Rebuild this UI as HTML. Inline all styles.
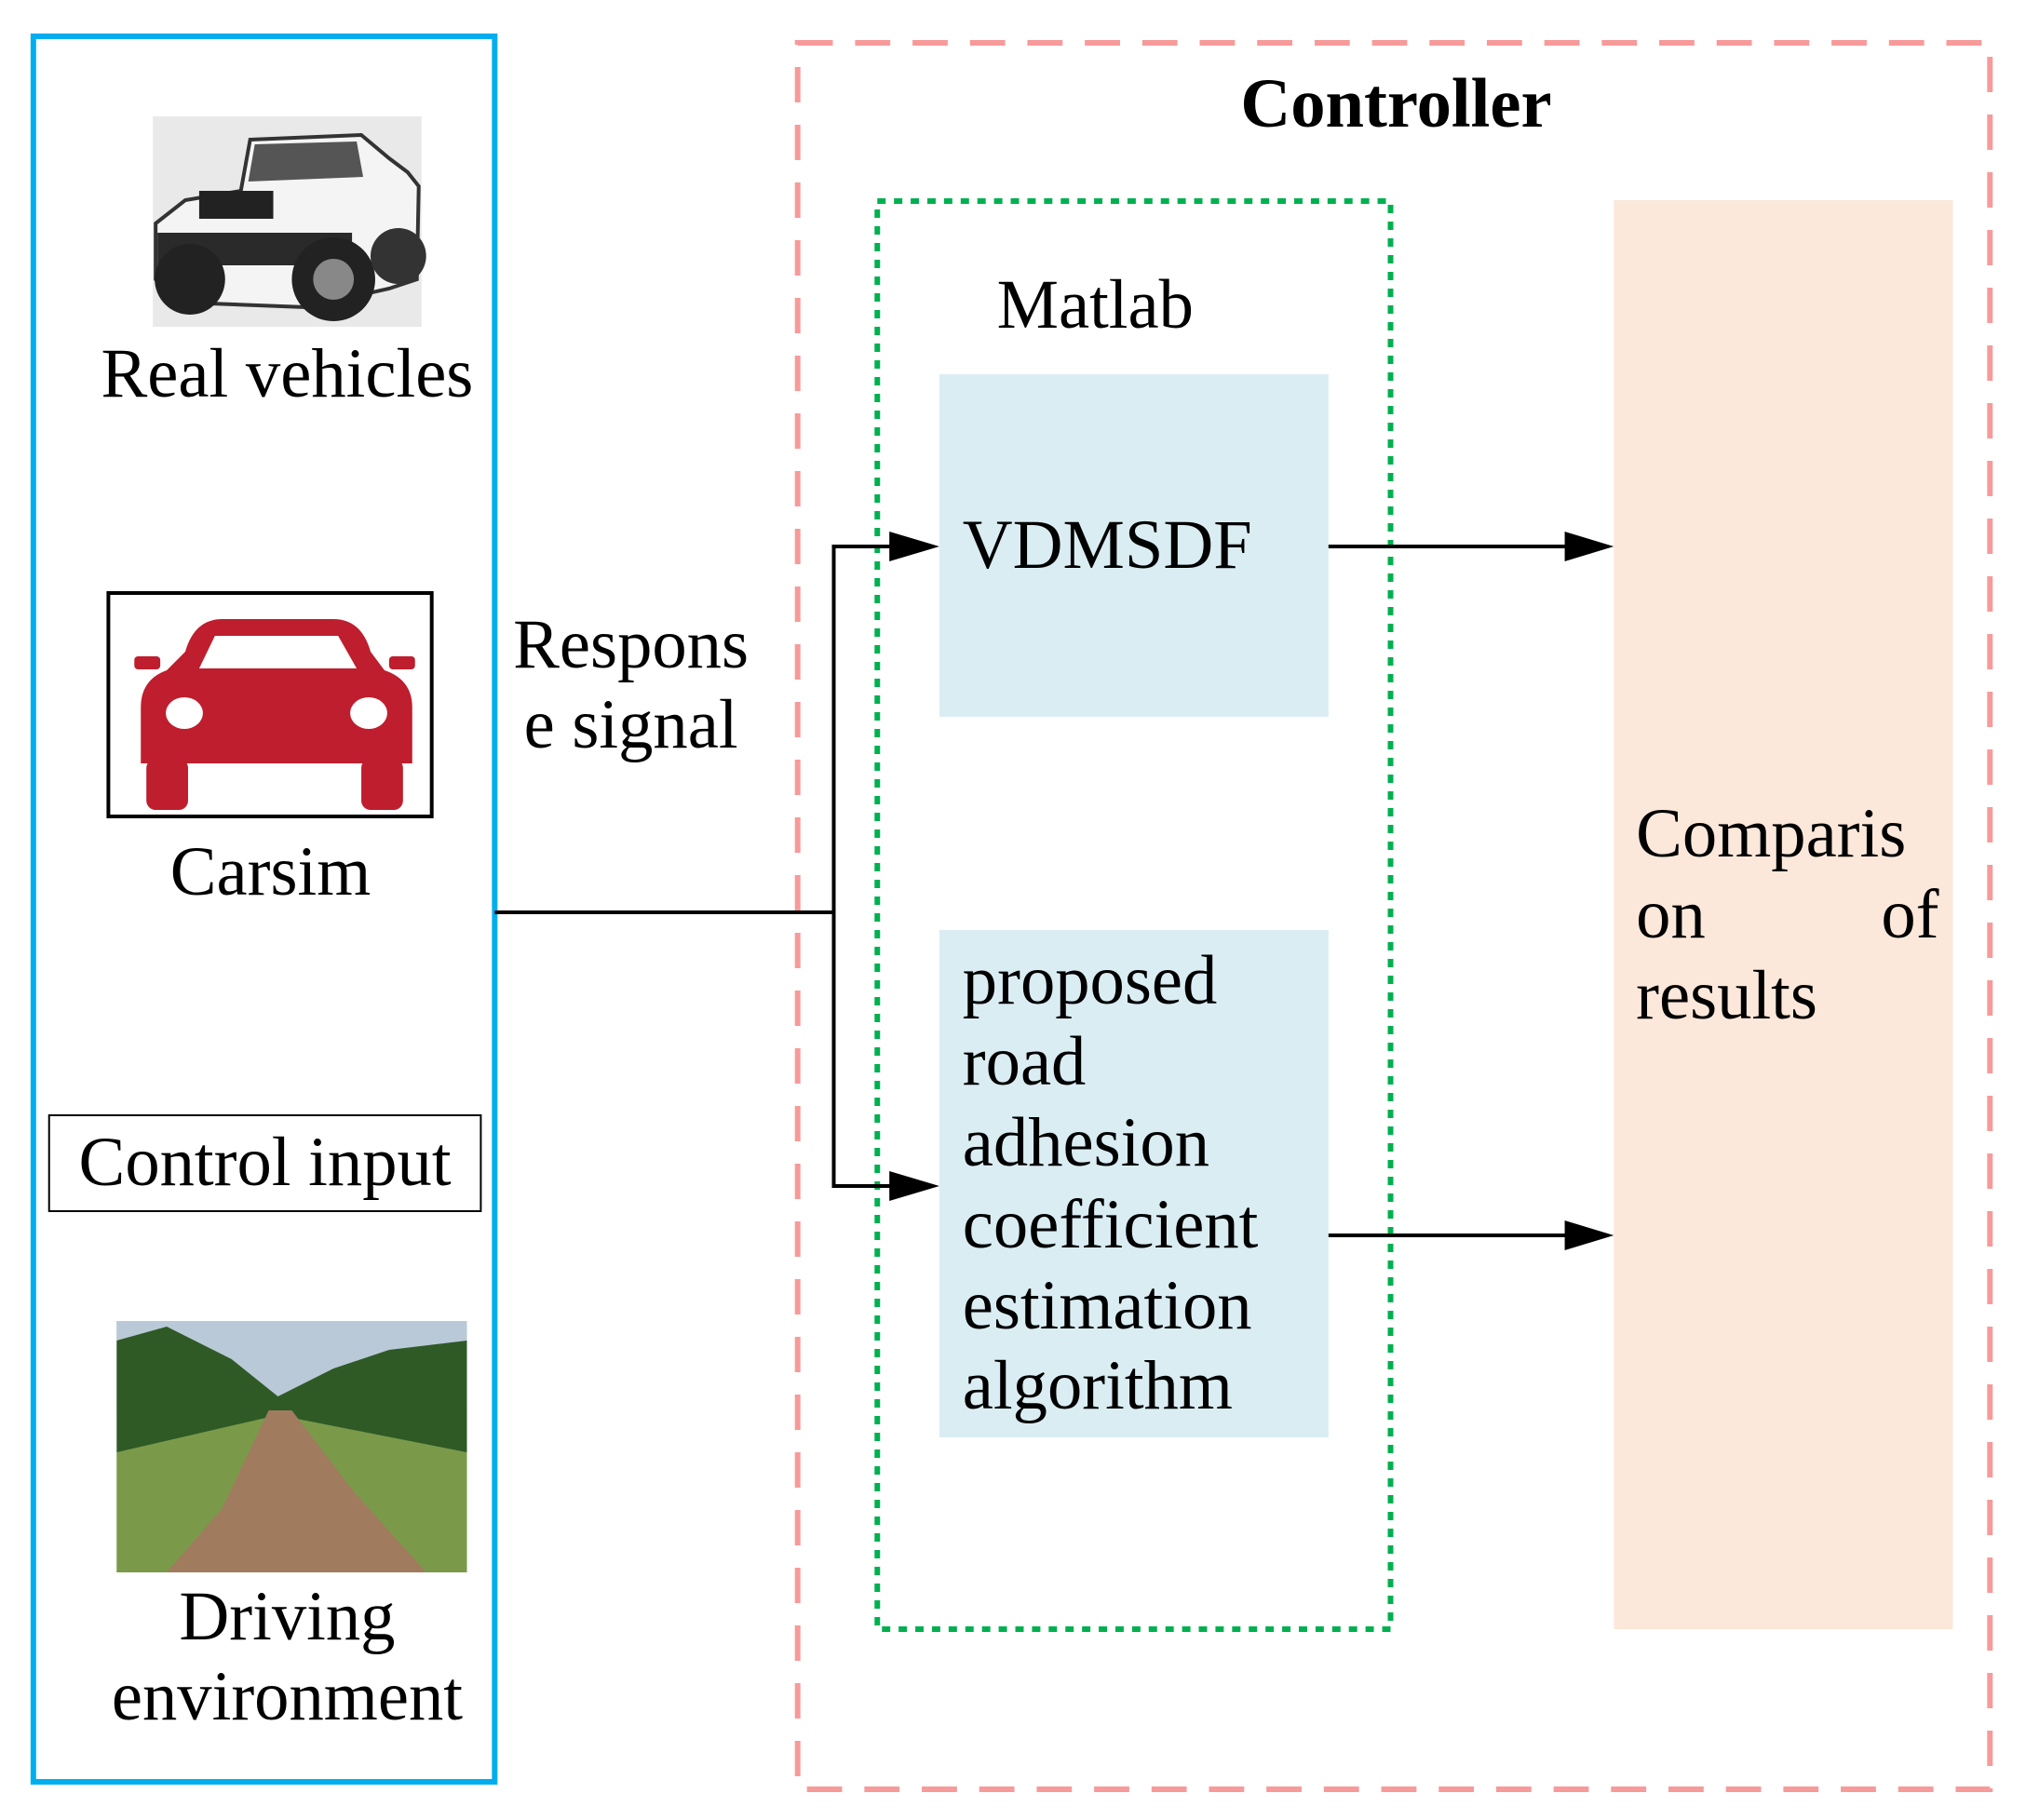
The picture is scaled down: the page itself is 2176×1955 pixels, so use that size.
<!DOCTYPE html>
<html><head><meta charset="utf-8"><style>html,body{margin:0;padding:0;background:#fff}svg{display:block}</style></head>
<body>
<svg width="2176" height="1955" viewBox="0 0 2176 1955" xmlns="http://www.w3.org/2000/svg" font-family="Liberation Serif, serif" font-size="75" fill="#000">
<g transform="scale(0.995 1)">
<rect x="36" y="39" width="498" height="1875" fill="none" stroke="#00aeef" stroke-width="6"/>
<rect x="861" y="46" width="1287" height="1876" fill="none" stroke="#f79a9a" stroke-width="6" stroke-dasharray="38,24"/>
<text x="1507" y="136" text-anchor="middle" font-weight="bold" font-size="75">Controller</text>
<rect x="1742" y="215" width="366" height="1535" fill="#fbe8da"/>
<rect x="947" y="216" width="554" height="1534" fill="none" stroke="#00b050" stroke-width="6" stroke-dasharray="9,9"/>
<text x="1076" y="352">Matlab</text>
<rect x="1014" y="402" width="420" height="368" fill="#daedf3"/>
<text x="1039" y="610">VDMSDF</text>
<rect x="1014" y="999" width="420" height="545" fill="#daedf3"/>
<text x="1039" y="1078">proposed</text>
<text x="1039" y="1165">road</text>
<text x="1039" y="1252">adhesion</text>
<text x="1039" y="1340">coefficient</text>
<text x="1039" y="1427">estimation</text>
<text x="1039" y="1513">algorithm</text>
<text x="1766" y="920">Comparis</text>
<text x="1766" y="1007">on</text>
<text x="2093" y="1007" text-anchor="end">of</text>
<text x="1766" y="1094">results</text>
<text x="681" y="717" text-anchor="middle">Respons</text>
<text x="681" y="803" text-anchor="middle">e signal</text>
<g stroke="#000" stroke-width="4" fill="none">
<line x1="534" y1="980" x2="900" y2="980"/>
<polyline points="900,585 900,1276"/>
<line x1="898" y1="587" x2="962" y2="587"/>
<line x1="898" y1="1274" x2="962" y2="1274"/>
<line x1="1434" y1="587" x2="1691" y2="587"/>
<line x1="1434" y1="1327" x2="1691" y2="1327"/>
</g>
<g fill="#000">
<path d="M960,571 L1014,587 L960,603z"/>
<path d="M960,1258 L1014,1274 L960,1290z"/>
<path d="M1689,571 L1742,587 L1689,603z"/>
<path d="M1689,1311 L1742,1327 L1689,1343z"/>
</g>
<rect x="165" y="125" width="290" height="226" fill="#e9e9e9"/>
<g>
<path d="M270,150 L390,145 L420,170 L440,185 L452,200 L450,300 L420,310 L330,330 L200,325 L168,300 L168,240 L200,215 L260,205 Z" fill="#f4f4f4" stroke="#333" stroke-width="4"/>
<path d="M275,155 L385,152 L392,190 L268,195 Z" fill="#555"/>
<rect x="215" y="205" width="80" height="30" fill="#222"/>
<rect x="170" y="250" width="210" height="35" fill="#2a2a2a"/>
<circle cx="360" cy="300" r="45" fill="#222"/><circle cx="360" cy="300" r="22" fill="#888"/>
<circle cx="205" cy="300" r="38" fill="#222"/>
<circle cx="430" cy="275" r="30" fill="#333"/>
</g>
<text x="310" y="426" text-anchor="middle">Real vehicles</text>
<rect x="117" y="637" width="349" height="240" fill="#fff" stroke="#000" stroke-width="4"/>
<g fill="#be1e2d">
<path d="M200,700 Q210,665 240,665 L360,665 Q390,665 400,700 L415,720 Q445,730 445,760 L445,820 L152,820 L152,760 Q152,730 180,720 Z"/>
<rect x="158" y="815" width="45" height="55" rx="10"/>
<rect x="390" y="815" width="45" height="55" rx="10"/>
<rect x="145" y="705" width="28" height="14" rx="4"/>
<rect x="420" y="705" width="28" height="14" rx="4"/>
</g>
<path d="M215,718 L232,683 L365,683 L385,718 Z" fill="#fff"/>
<ellipse cx="199" cy="766" rx="20" ry="17" fill="#fff"/>
<ellipse cx="398" cy="766" rx="20" ry="17" fill="#fff"/>
<text x="292" y="961" text-anchor="middle">Carsim</text>
<rect x="53" y="1198" width="466" height="103" fill="none" stroke="#000" stroke-width="2"/>
<text x="286" y="1273" text-anchor="middle">Control input</text>
<rect x="126" y="1419" width="378" height="270" fill="#6d8a45"/>
<rect x="126" y="1419" width="378" height="95" fill="#b9c9d8"/>
<path d="M126,1440 L180,1425 L250,1460 L300,1500 L360,1470 L420,1450 L504,1440 L504,1560 L126,1560 Z" fill="#2f5a25"/>
<path d="M126,1560 L300,1520 L504,1560 L504,1689 L126,1689 Z" fill="#7a9a4a"/>
<path d="M290,1515 L315,1515 L380,1600 L460,1689 L180,1689 L240,1620 Z" fill="#a07b5e"/>
<text x="310" y="1761" text-anchor="middle">Driving</text>
<text x="310" y="1847" text-anchor="middle">environment</text>
</g>
</svg>
</body></html>
